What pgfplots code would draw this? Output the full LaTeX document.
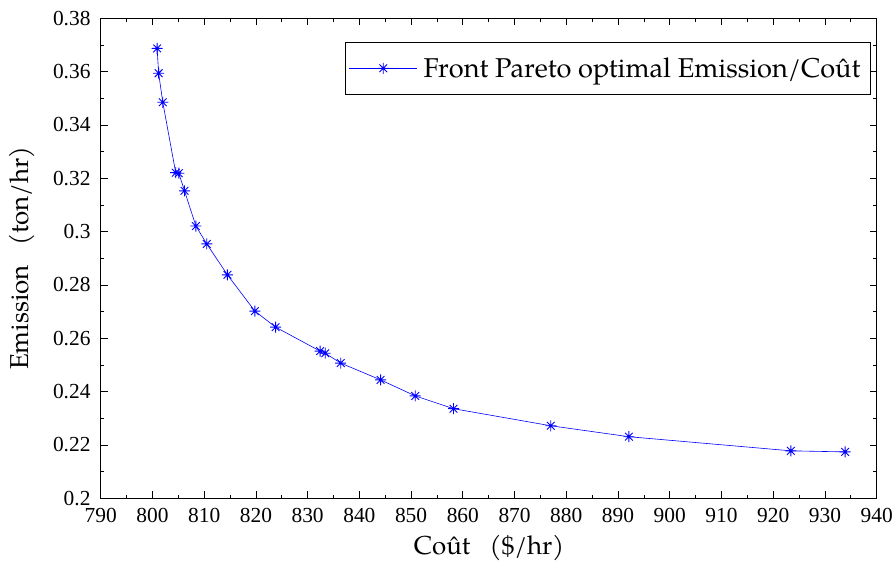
\documentclass[border=0pt]{standalone}
\usepackage{fontspec}
\setmainfont{TeX Gyre Pagella}
\newfontfamily\tickfont{Liberation Serif}
\usepackage{pgfplots}
\pgfplotsset{compat=1.18}

% eight-armed asterisk: a plus sign overlaid with a smaller cross
\pgfdeclareplotmark{starburst}{%
  \pgfpathmoveto{\pgfqpoint{0pt}{\pgfplotmarksize}}%
  \pgfpathlineto{\pgfqpoint{0pt}{-\pgfplotmarksize}}%
  \pgfpathmoveto{\pgfqpoint{\pgfplotmarksize}{0pt}}%
  \pgfpathlineto{\pgfqpoint{-\pgfplotmarksize}{0pt}}%
  \pgfpathmoveto{\pgfqpoint{0.7\pgfplotmarksize}{0.7\pgfplotmarksize}}%
  \pgfpathlineto{\pgfqpoint{-0.7\pgfplotmarksize}{-0.7\pgfplotmarksize}}%
  \pgfpathmoveto{\pgfqpoint{0.7\pgfplotmarksize}{-0.7\pgfplotmarksize}}%
  \pgfpathlineto{\pgfqpoint{-0.7\pgfplotmarksize}{0.7\pgfplotmarksize}}%
  \pgfusepathqstroke}

\begin{document}
\begin{tikzpicture}
\begin{axis}[
  name=main,
  width=776bp, height=480bp, scale only axis,
  xmin=790, xmax=940, ymin=0.2, ymax=0.38,
  xtick distance=10, ytick distance=0.02,
  minor x tick num=1, minor y tick num=1,
  scaled y ticks=false,
  tick align=inside,
  major tick length=7bp, minor tick length=3.5bp,
  every tick/.style={black, line width=0.8bp},
  axis line style={line width=1bp},
  /pgf/number format/assume math mode=true,
  ticklabel style={font=\fontsize{21.5}{21.5}\selectfont\tickfont, inner sep=0pt},
  xticklabel style={anchor=north, yshift=-10bp},
  yticklabel style={anchor=east, xshift=-10bp},
  label style={font=\fontsize{26}{26}\selectfont},
  xlabel={Coût\hspace{0.75em}(\$/hr)},
  ylabel={Emission\hspace{0.75em}(ton/hr)},
  xlabel style={at={(axis description cs:0.5004,-0.1035)}, anchor=center},
  ylabel style={at={(axis description cs:-0.1014,0.5)}, anchor=center},
  legend style={at={(0.9925,0.95)}, anchor=north east,
    font=\fontsize{27.3}{27.3}\selectfont, draw=black, line width=0.8bp,
    inner xsep=4bp, inner ysep=13bp,
    nodes={inner xsep=6bp}},
  legend cell align=left,
  legend image code/.code={%
    \draw[mark repeat=2, mark phase=2, #1]
      plot coordinates {(0bp,0bp) (34bp,0bp) (68bp,0bp)};},
]
\addplot[color=blue, line width=0.6bp, mark=starburst, mark size=5.5bp,
  mark options={line width=0.9bp}]
  coordinates {
  (800.9,0.3687) (801.2,0.3594) (802.0,0.3485) (804.5,0.3221)
  (805.1,0.3219) (806.2,0.3153) (808.4,0.3021) (810.5,0.2954)
  (814.5,0.2838) (819.8,0.2702) (823.8,0.2642) (832.4,0.2552)
  (833.4,0.2544) (836.4,0.2507) (844.1,0.2444) (850.8,0.2384)
  (858.2,0.2336) (877.0,0.2272) (892.1,0.2231) (923.4,0.2178)
  (933.9,0.2174)
  };
\addlegendentry{Front Pareto optimal Emission/Coût}
\end{axis}
\pgfresetboundingbox
\path (main.south west) ++(-100.7bp,-66.7bp) rectangle (main.north east) ++(19.3bp,18.3bp);
\end{tikzpicture}
\end{document}
